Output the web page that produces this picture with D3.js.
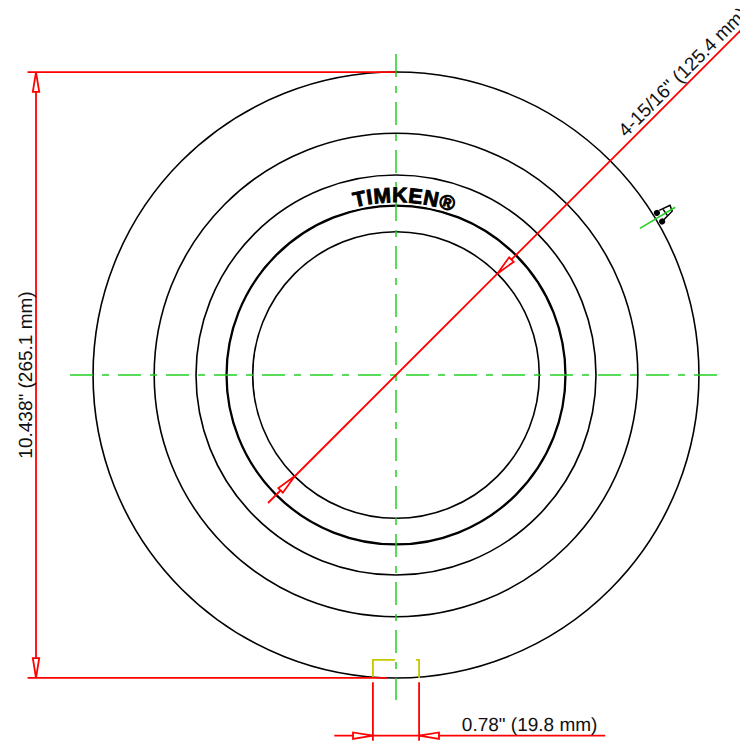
<!DOCTYPE html>
<html>
<head>
<meta charset="utf-8">
<script src="https://cdn.jsdelivr.net/npm/d3@7"></script>
<style>
  html, body { margin: 0; padding: 0; background: #fff; overflow: hidden; }
  svg { display: block; }
  text { font-family: "Liberation Sans", Arial, sans-serif; fill: #111; text-rendering: geometricPrecision; }
  .ring { fill: none; stroke: #000; stroke-width: 1.6; }
  .dim { fill: none; stroke: #f00; stroke-width: 1.8; }
  .arrow { fill: #fff; stroke: #f00; stroke-width: 1.8; }
  .center { fill: none; stroke: #22d022; stroke-width: 1.5; stroke-dasharray: 23 9 7 9; }
  .notch { fill: none; stroke: #000; stroke-width: 1.5; }
</style>
</head>
<body>
<script>
// 所有尺寸單位都是 mm，以軸承中心為原點
const outerDiameter = 265.1,
  boreDiameter = 125.4,
  keyWidth = 19.8;

const ringRadii = [132.55, 105.8, 87.5, 74.3, 74.0, 62.7];

const labels = ['10.438" (265.1 mm)', '4-15/16" (125.4 mm)', '0.78" (19.8 mm)'];
const logoText = "TIMKEN®";

// 標線範圍
const centerLineH = [-142.6, 141.8],
  centerLineV = [140.4, -142.2],
  leftExtensionX = -161.2,
  leftDimX = -157.5,
  bottomDimY = -157.8,
  bottomDimRange = [-27, 91.5],
  bottomExtensionY = [-134.4, -160],
  diagonalRange = [-56, 151],
  keyTopY = -124.6,
  keyGapX = [-0.4, 8.8],
  arrowLength = 8.7,
  arrowHalf = 1.4;

// 外圈上的小缺口，[徑向, 切向]
const notchAngle = 31,
  notchAxis = [124.5, 142.5],
  notchDots = [[134.4, -2], [134.4, 2.4]],
  notchOutline = [[135.8, -2.4], [141, -1.9], [140.5, 0.8], [136.9, 1.7], [133.3, 2.7]],
  notchInner = [[137.5, -1.9], [137.7, 1.2]];

const width = 740,
  height = 741,
  pxPerMm = 2.2856;

let x = d3.scaleLinear()
  .domain([0, 1])
  .range([396, 396 + pxPerMm]);
let y = d3.scaleLinear()
  .domain([0, 1])
  .range([375, 375 - pxPerMm]);
let r = d3.scaleLinear()
  .domain([0, 1])
  .range([0, pxPerMm]);

let svg = d3.select("body")
  .append("svg")
  .attr("width", width)
  .attr("height", height);

let line = d3.line()
  .x(d => x(d[0]))
  .y(d => y(d[1]));

// 箭頭：tip 為尖端，dir 為箭身方向的單位向量
let arrow = (tip, dir) => {
  let base = [tip[0] + dir[0] * arrowLength, tip[1] + dir[1] * arrowLength],
    n = [-dir[1] * arrowHalf, dir[0] * arrowHalf];
  svg.append("path")
    .attr("class", "arrow")
    .attr("d", line([tip, [base[0] + n[0], base[1] + n[1]], [base[0] - n[0], base[1] - n[1]]]) + "Z");
};

let dimLine = (points, cls = "dim") => svg.append("path")
  .attr("class", cls)
  .attr("d", line(points));

// 畫圓環
svg.selectAll("circle.ring")
  .data(ringRadii)
  .join("circle")
  .attr("class", "ring")
  .attr("cx", x(0))
  .attr("cy", y(0))
  .attr("r", d => r(d));

// 中心線
dimLine([[centerLineH[0], 0], [centerLineH[1], 0]], "center");
dimLine([[0, centerLineV[0]], [0, centerLineV[1]]], "center");

// 商標，沿著圓弧排字
const logoR = 75.6;
svg.append("defs").append("path")
  .attr("id", "logoArc")
  .attr("d", d3.lineRadial().curve(d3.curveNatural)(
    d3.range(-8, 9).map(i => [i * Math.PI / 32, r(logoR)])
  ));
svg.append("text")
  .attr("transform", `translate(${x(0)}, ${y(0)})`)
  .attr("font-size", 21)
  .attr("font-weight", "bold")
  .attr("letter-spacing", 0.6)
  .attr("stroke", "#000")
  .attr("stroke-width", 0.9)
  .style("fill", "#000")
  .append("textPath")
  .attr("href", "#logoArc")
  .attr("startOffset", "53%")
  .attr("text-anchor", "middle")
  .text(logoText);

// 外圈缺口
let notch = svg.append("g")
  .attr("transform", `translate(${x(0)}, ${y(0)}) rotate(${-notchAngle})`);
let local = d3.line()
  .x(d => r(d[0]))
  .y(d => r(d[1]));
notch.selectAll("circle")
  .data(notchDots)
  .join("circle")
  .attr("cx", d => r(d[0]))
  .attr("cy", d => r(d[1]))
  .attr("r", 3)
  .attr("fill", "#000");
notch.append("path").attr("class", "notch").attr("d", local(notchOutline));
notch.append("path").attr("class", "notch").attr("d", local(notchInner));
notch.append("path")
  .attr("fill", "none")
  .attr("stroke", "#22d022")
  .attr("stroke-width", 1.5)
  .attr("d", local(notchAxis.map(d => [d, 0])));

// 鍵槽（黃線）
const keyLeft = -keyWidth / 2 - 0.2,
  keyRight = keyWidth / 2 + 0.2,
  keyBottom = -outerDiameter / 2;
dimLine([[keyLeft, keyBottom], [keyLeft, keyTopY], [keyGapX[0], keyTopY]]).style("stroke", "#c8c800");
dimLine([[keyGapX[1], keyTopY], [keyRight, keyTopY], [keyRight, keyBottom]]).style("stroke", "#c8c800");

// 左側外徑標註
const outerR = outerDiameter / 2;
dimLine([[leftExtensionX, outerR], [0, outerR]]);
dimLine([[leftExtensionX, -outerR], [-4, -outerR]]);
dimLine([[leftDimX, outerR], [leftDimX, -outerR]]);
arrow([leftDimX, outerR], [0, -1]);
arrow([leftDimX, -outerR], [0, 1]);
svg.append("text")
  .attr("transform", `translate(${x(leftDimX) - 4}, ${y(0)}) rotate(-90)`)
  .attr("font-size", 19)
  .attr("text-anchor", "middle")
  .text(labels[0]);

// 內徑標註
const diag = Math.SQRT1_2,
  boreR = boreDiameter / 2;
dimLine([
  [diagonalRange[0], diagonalRange[0]],
  [diagonalRange[1], diagonalRange[1]],
]);
arrow([boreR * diag, boreR * diag], [diag, diag]);
arrow([-boreR * diag, -boreR * diag], [-diag, -diag]);
svg.append("text")
  .attr("transform", `translate(${x(100.6)}, ${y(103.7)}) rotate(-45)`)
  .attr("font-size", 19)
  .text(labels[1]);

// 鍵槽寬度標註
dimLine([[keyLeft, bottomExtensionY[0]], [keyLeft, bottomExtensionY[1]]]);
dimLine([[keyRight, bottomExtensionY[0]], [keyRight, bottomExtensionY[1]]]);
dimLine([[bottomDimRange[0], bottomDimY], [bottomDimRange[1], bottomDimY]]);
arrow([keyLeft, bottomDimY], [-1, 0]);
arrow([keyRight, bottomDimY], [1, 0]);
svg.append("text")
  .attr("x", x(28.8))
  .attr("y", y(bottomDimY) - 5)
  .attr("font-size", 19)
  .text(labels[2]);
</script>
</body>
</html>
